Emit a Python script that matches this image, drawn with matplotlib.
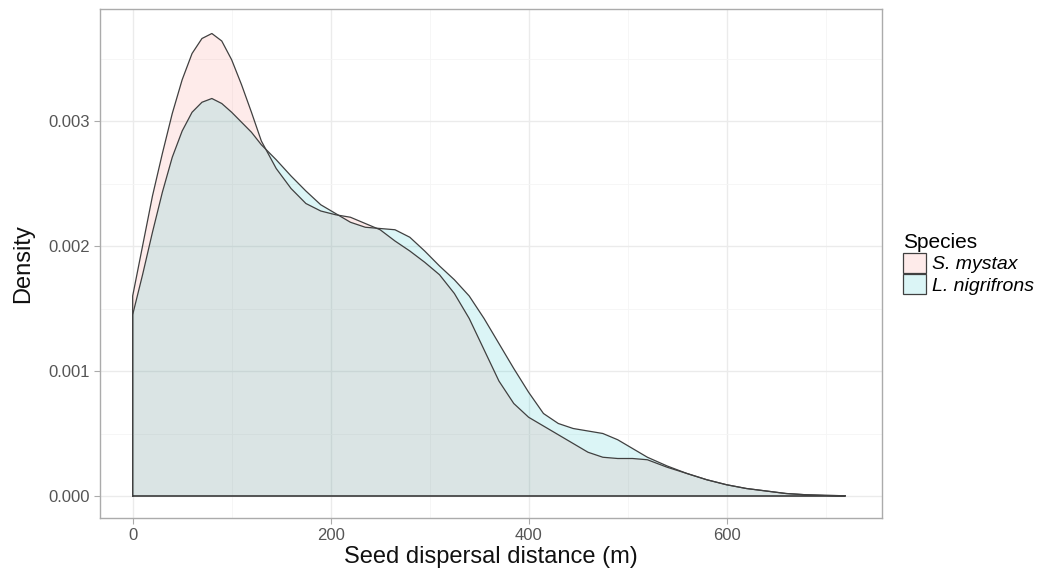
import matplotlib.pyplot as plt
from matplotlib.patches import Patch
from matplotlib.colors import to_rgba
import numpy as np

plt.rcParams['font.family'] = ['Liberation Sans', 'DejaVu Sans']

# seed dispersal distance (m)
distance = [0, 10, 20, 30, 40, 50, 60, 70, 80, 90, 100, 110, 120, 130, 145, 160,
            175, 190, 205, 220, 235, 250, 265, 280, 295, 310, 325, 340, 355, 370,
            385, 400, 415, 430, 445, 460, 475, 490, 505, 520, 540, 560, 580, 600,
            620, 640, 660, 680, 700, 720]

# density, S. mystax
mystax = [0.00160, 0.00200, 0.00240, 0.00274, 0.00306, 0.00333, 0.00354, 0.00366,
          0.00370, 0.00364, 0.00349, 0.00329, 0.00307, 0.00284, 0.00262, 0.00246,
          0.00234, 0.00228, 0.00225, 0.00223, 0.00218, 0.00213, 0.00204, 0.00196,
          0.00187, 0.00177, 0.00162, 0.00142, 0.00117, 0.00092, 0.00074, 0.00063,
          0.00056, 0.00049, 0.00042, 0.00035, 0.00031, 0.00030, 0.00030, 0.00029,
          0.00023, 0.00018, 0.00013, 0.00009, 0.00006, 0.00004, 0.00002, 0.00001,
          0.000005, 0.000002]

# density, L. nigrifrons
nigrifrons = [0.00145, 0.00177, 0.00211, 0.00243, 0.00271, 0.00292, 0.00307, 0.00315,
              0.00318, 0.00314, 0.00307, 0.00299, 0.00291, 0.00281, 0.00269, 0.00256,
              0.00244, 0.00233, 0.00226, 0.00219, 0.00215, 0.00214, 0.00213, 0.00207,
              0.00196, 0.00184, 0.00173, 0.00160, 0.00142, 0.00122, 0.00102, 0.00083,
              0.00066, 0.00058, 0.00054, 0.00052, 0.00050, 0.00045, 0.00038, 0.00031,
              0.00024, 0.00018, 0.00013, 0.00009, 0.00006, 0.00004, 0.00002, 0.00001,
              0.000005, 0.000002]

species = ['S. mystax', 'L. nigrifrons']
colors = ['#F8766D', '#00BFC4']

fig = plt.figure(figsize=(10.6, 5.78), dpi=100)
ax = fig.add_axes([100 / 1060, 60 / 578, 782 / 1060, 509 / 578])

for ys, col in zip([mystax, nigrifrons], colors):
    xs = np.array([distance[0]] + distance + [distance[-1]])
    yy = np.array([0] + ys + [0])
    ax.fill(xs, yy, facecolor=col, alpha=0.14, edgecolor='none', zorder=2)
    ax.plot(np.append(xs, xs[0]), np.append(yy, 0), color='#404040', lw=0.9,
            zorder=3, solid_joinstyle='round')

ax.set_xlim(-33, 757)
ax.set_ylim(-0.000176, 0.003896)
ax.set_xticks([0, 200, 400, 600])
ax.set_xticks([100, 300, 500, 700], minor=True)
ax.set_yticks([0, 0.001, 0.002, 0.003])
ax.set_yticks([0.0005, 0.0015, 0.0025, 0.0035], minor=True)
ax.set_yticklabels(['0.000', '0.001', '0.002', '0.003'])
ax.grid(which='major', color='#EBEBEB', lw=1.0, zorder=0)
ax.grid(which='minor', color='#F5F5F5', lw=0.6, zorder=0)
ax.set_axisbelow(True)
for s in ax.spines.values():
    s.set_color('#ABABAB')
    s.set_linewidth(1.0)
ax.tick_params(which='major', length=4, color='#ABABAB', labelcolor='#555555', labelsize=12)
ax.tick_params(which='minor', length=0)

ax.set_xlabel('Seed dispersal distance (m)', fontsize=17, color='#111111', labelpad=2)
ax.set_ylabel('Density', fontsize=17, color='#111111', labelpad=10)

handles = [Patch(facecolor=to_rgba(c, 0.14), edgecolor='#404040', linewidth=0.9)
           for c in colors]
leg = fig.legend(handles, species, title='Species', loc='upper left',
                 bbox_to_anchor=(895 / 1060, 1 - 225 / 578), frameon=False,
                 prop={'style': 'italic', 'size': 14}, title_fontsize=15,
                 handlelength=1.2, handleheight=1.2, handletextpad=0.3,
                 labelspacing=0.05, borderaxespad=0)
leg._legend_box.align = 'left'

fig.savefig('out.png', dpi=100)
